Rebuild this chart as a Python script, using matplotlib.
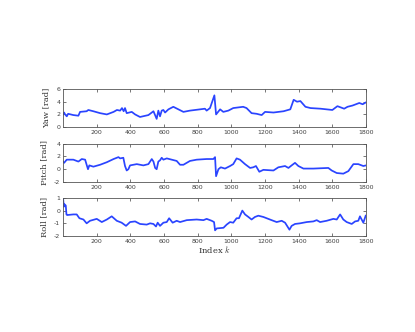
import numpy as np
import matplotlib.pyplot as plt

# values
yaw_k = [0, 6, 12, 22, 30, 61, 91, 101, 140, 150, 180, 220, 260, 300, 320, 339, 350,
         360, 368, 378, 408, 428, 457, 507, 537, 556, 566, 576, 586, 596, 606, 626,
         655, 685, 715, 754, 814, 843, 853, 873, 899, 909, 933, 952, 982, 1011,
         1070, 1090, 1120, 1150, 1180, 1200, 1250, 1310, 1350, 1370, 1390, 1410,
         1440, 1470, 1530, 1600, 1630, 1670, 1690, 1720, 1760, 1780, 1800]
yaw = [2.0, 2.3, 2.0, 1.7, 2.1, 1.9, 1.8, 2.4, 2.5, 2.7, 2.5, 2.2, 2.0, 2.4, 2.7,
       2.6, 3.0, 2.5, 3.0, 2.2, 2.4, 2.0, 1.6, 1.9, 2.5, 1.3, 2.6, 1.7, 2.6, 2.7,
       2.3, 2.8, 3.2, 2.8, 2.4, 2.6, 2.8, 2.9, 2.6, 3.0, 5.0, 2.0, 2.8, 2.4, 2.6,
       3.0, 3.2, 3.0, 2.2, 2.1, 1.9, 2.4, 2.3, 2.5, 2.8, 4.3, 4.0, 4.1, 3.2, 3.0,
       2.9, 2.7, 3.3, 2.9, 3.2, 3.4, 3.8, 3.6, 3.9]

pitch_k = [0, 6, 22, 61, 91, 111, 131, 140, 148, 156, 180, 220, 260, 300, 329, 339,
           358, 368, 378, 388, 398, 438, 477, 507, 527, 537, 547, 556, 566, 576,
           586, 596, 616, 675, 695, 715, 754, 794, 853, 893, 903, 909, 923, 937,
           962, 992, 1011, 1031, 1051, 1081, 1111, 1130, 1146, 1166, 1190, 1250,
           1279, 1319, 1339, 1358, 1378, 1398, 1428, 1487, 1576, 1596, 1626, 1665,
           1695, 1725, 1754, 1784, 1800]
pitch = [1.2, 1.0, 1.5, 1.5, 1.2, 1.6, 1.5, 0.7, 0.0, 0.6, 0.4, 0.7, 1.1, 1.6, 1.9,
         1.7, 1.8, 0.5, -0.2, 0.0, 0.6, 0.8, 0.6, 0.8, 1.6, 1.2, 0.2, 0.0, 1.2,
         1.4, 1.8, 1.5, 1.7, 1.3, 0.7, 0.7, 1.3, 1.5, 1.6, 1.6, 1.9, -1.1, 0.0,
         0.3, 0.1, 0.5, 0.8, 1.7, 1.5, 0.8, 0.2, 0.3, 0.5, -0.4, -0.1, -0.2, 0.3,
         0.5, 0.2, 0.6, 1.0, 0.5, 0.1, 0.1, 0.2, -0.2, -0.6, -0.7, -0.3, 0.8, 0.8,
         0.5, 0.6]

roll_k = [0, 4, 8, 16, 20, 24, 61, 81, 97, 121, 140, 160, 200, 230, 260, 289, 319,
          348, 374, 398, 428, 457, 497, 517, 537, 552, 562, 576, 596, 616, 630,
          651, 675, 695, 735, 794, 834, 853, 883, 897, 903, 913, 953, 972, 992,
          1011, 1031, 1045, 1065, 1081, 1101, 1120, 1140, 1160, 1190, 1229, 1269,
          1299, 1319, 1345, 1358, 1378, 1408, 1448, 1487, 1507, 1527, 1566, 1606,
          1626, 1646, 1665, 1685, 1715, 1735, 1754, 1764, 1784, 1798]
roll = [1.0, 0.3, 0.5, 0.4, -0.3, -0.35, -0.3, -0.3, -0.6, -0.7, -1.0, -0.8, -0.65,
        -0.9, -0.7, -0.45, -0.8, -0.95, -1.2, -0.9, -0.85, -1.05, -1.1, -1.0, -1.05,
        -1.25, -0.95, -1.2, -0.95, -0.9, -0.6, -0.95, -0.8, -0.9, -0.75, -0.7,
        -0.75, -0.65, -0.8, -0.9, -1.55, -1.4, -1.35, -1.1, -0.9, -0.95, -0.6, -0.6,
        0.0, -0.3, -0.5, -0.7, -0.5, -0.4, -0.5, -0.7, -0.9, -0.8, -0.95, -1.5,
        -1.2, -1.05, -1.0, -0.9, -0.85, -0.75, -0.9, -0.8, -0.65, -0.7, -0.3, -0.7,
        -0.9, -1.05, -0.85, -0.8, -0.45, -0.95, -0.4]

panels = [(yaw_k, yaw, 'Yaw [rad]', (0, 6), [0, 2, 4, 6]),
          (pitch_k, pitch, 'Pitch [rad]', (-2, 4), [-2, 0, 2, 4]),
          (roll_k, roll, 'Roll [rad]', (-2, 1), [-2, -1, 0, 1])]
bottoms = [0.617, 0.452, 0.289]

plt.rcParams['mathtext.fontset'] = 'cm'
plt.rcParams['axes.unicode_minus'] = False
fig = plt.figure(figsize=(4.15, 3.32), dpi=100)
for (k, v, lab, yl, yt), b in zip(panels, bottoms):
    ax = fig.add_axes([0.152, b, 0.730, 0.115])
    ax.plot(k, v, color='#2a44ff', lw=1.25)
    ax.set_xlim(0, 1800)
    ax.set_ylim(*yl)
    ax.set_yticks(yt)
    ax.set_xticks(range(200, 1801, 200))
    ax.tick_params(direction='in', length=2, width=0.5, labelsize=4.5,
                   top=True, right=True, colors='#404040', pad=2)
    for s in ax.spines.values():
        s.set_linewidth(0.6)
        s.set_color('#555555')
    ax.set_ylabel(lab, family='serif', fontsize=6, color='#333333', labelpad=4)
ax.set_xlabel('Index $k$', family='serif', fontsize=6, color='#333333', labelpad=0)

plt.savefig('out.png', dpi=100)
